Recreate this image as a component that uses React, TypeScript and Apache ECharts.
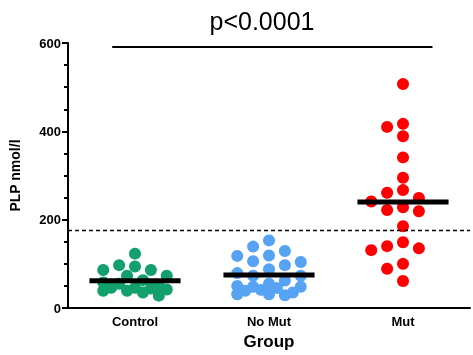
import React, { useEffect, useRef } from "react";
import * as echarts from "echarts";

const groups = ["Control", "No Mut", "Mut"];
const controlValues = [123, 97, 94, 86, 86, 73, 73, 63, 58, 55, 50, 46, 46, 44, 42, 39, 39, 35, 28];
const noMutValues = [153, 139, 129, 119, 118, 106, 104, 97, 88, 79, 73, 73, 62, 55, 50, 48, 48, 45, 41, 39, 35, 31, 31, 29];
const mutValues = [507, 417, 410, 389, 341, 295, 267, 261, 249, 241, 228, 222, 219, 185, 149, 140, 135, 131, 100, 89, 61];
const groupColors = ["#12a06c", "#56a3f3", "#ff0000"];
const thresholdValue = 175;
const pValueText = "p<0.0001";
const yTicks = [0, 200, 400, 600];

const W = 473;
const H = 355;
const GRID = { left: 65, right: 3, top: 43, bottom: 46 };
const DOT = 12;
const SLOT = 16; // horizontal slot width (px)
const MIN_DIST = 12; // wanted centre distance (px)

// Prism-like scatter: dots go to the first free slot inside a limited column width;
// when no slot is free, the least crowded slot is used (dots then overlap).
function swarm(values: number[], pxPerUnit: number): number[] {
  const order = values.map((_, i) => i).sort((a, b) => values[b] - values[a]);
  const placed: { x: number; y: number }[] = [];
  const offsets = new Array(values.length).fill(0);
  const slots = [0, -1, 1, -2, 2, -0.5, 0.5, -1.5, 1.5].map((k) => k * SLOT);
  for (const i of order) {
    const y = values[i] * pxPerUnit;
    let best = 0;
    let bestD = -1;
    for (const c of slots) {
      let d = Infinity;
      for (const p of placed) d = Math.min(d, Math.hypot(p.x - c, p.y - y));
      if (d >= MIN_DIST) {
        best = c;
        bestD = Infinity;
        break;
      }
      if (d > bestD) {
        bestD = d;
        best = c;
      }
    }
    placed.push({ x: best, y });
    offsets[i] = best;
  }
  return offsets;
}

export default function App() {
  const ref = useRef<HTMLDivElement>(null);
  useEffect(() => {
    if (!ref.current) return;
    const chart = echarts.init(ref.current, null, { renderer: "svg" });
    const yMax = yTicks[yTicks.length - 1];
    const pxY = (H - GRID.top - GRID.bottom) / yMax;
    const pxX = (W - GRID.left - GRID.right) / groups.length;
    const all = [controlValues, noMutValues, mutValues];
    const scatterSeries = all.map((vals, gi) => {
      const offs = swarm(vals, pxY);
      return {
        type: "scatter",
        xAxisIndex: 1,
        symbolSize: DOT,
        itemStyle: { color: groupColors[gi], opacity: 1 },
        z: 2,
        data: vals.map((v, i) => [gi + 0.5 + offs[i] / pxX, v]),
      };
    });
    const meanSeries = all.map((vals, gi) => {
      const mean = vals.reduce((s, v) => s + v, 0) / vals.length;
      return {
        type: "line",
        xAxisIndex: 1,
        symbol: "none",
        z: 4,
        lineStyle: { color: "#000", width: 5 },
        data: [
          [gi + 0.5 - 0.34, mean],
          [gi + 0.5 + 0.34, mean],
        ],
      };
    });
    const option: any = {
      animation: false,
      grid: { ...GRID },
      graphic: [
        {
          type: "text",
          x: 262,
          y: 8,
          style: {
            text: pValueText,
            fontSize: 25,
            fontFamily: "Liberation Sans, Arial",
            fill: "#000",
            textAlign: "center",
          },
        },
      ],
      xAxis: [
        {
          type: "category",
          data: groups,
          name: "Group",
          nameLocation: "middle",
          nameGap: 25,
          nameTextStyle: { fontSize: 17, fontWeight: "bold", color: "#000", fontFamily: "Liberation Sans, Arial" },
          axisLine: { lineStyle: { color: "#000", width: 2 } },
          axisTick: { alignWithLabel: true, length: 5, lineStyle: { color: "#000", width: 2 } },
          axisLabel: { fontSize: 13, fontWeight: "bold", color: "#000", margin: 7, fontFamily: "Liberation Sans, Arial" },
        },
        { type: "value", min: 0, max: groups.length, show: false },
      ],
      yAxis: {
        type: "value",
        min: 0,
        max: yMax,
        interval: 200,
        name: "PLP nmol/l",
        nameLocation: "middle",
        nameGap: 46,
        nameTextStyle: { fontSize: 14, fontWeight: "bold", color: "#000", fontFamily: "Liberation Sans, Arial" },
        axisLine: { show: true, lineStyle: { color: "#000", width: 2 } },
        axisTick: { show: true, length: 6, lineStyle: { color: "#000", width: 2 } },
        minorTick: { show: true, splitNumber: 4, length: 4, lineStyle: { color: "#000", width: 2 } },
        splitLine: { show: false },
        axisLabel: { fontSize: 13, fontWeight: "bold", color: "#000", margin: 7, fontFamily: "Liberation Sans, Arial" },
      },
      series: [
        ...scatterSeries,
        ...meanSeries,
        {
          type: "line",
          xAxisIndex: 1,
          data: [],
          z: 3,
          markLine: {
            silent: true,
            symbol: "none",
            label: { show: false },
            lineStyle: { color: "#000", width: 1.3, type: [4, 3] },
            data: [{ yAxis: thresholdValue }],
          },
        },
        {
          type: "line",
          xAxisIndex: 1,
          data: [],
          z: 3,
          markLine: {
            silent: true,
            symbol: "none",
            label: { show: false },
            lineStyle: { color: "#000", width: 2, type: "solid" },
            data: [[{ coord: [0.33, 591] }, { coord: [2.72, 591] }]],
          },
        },
      ],
    };
    chart.setOption(option);
    return () => chart.dispose();
  }, []);
  return <div ref={ref} style={{ position: "fixed", left: 0, top: 0, width: W, height: H }} />;
}
